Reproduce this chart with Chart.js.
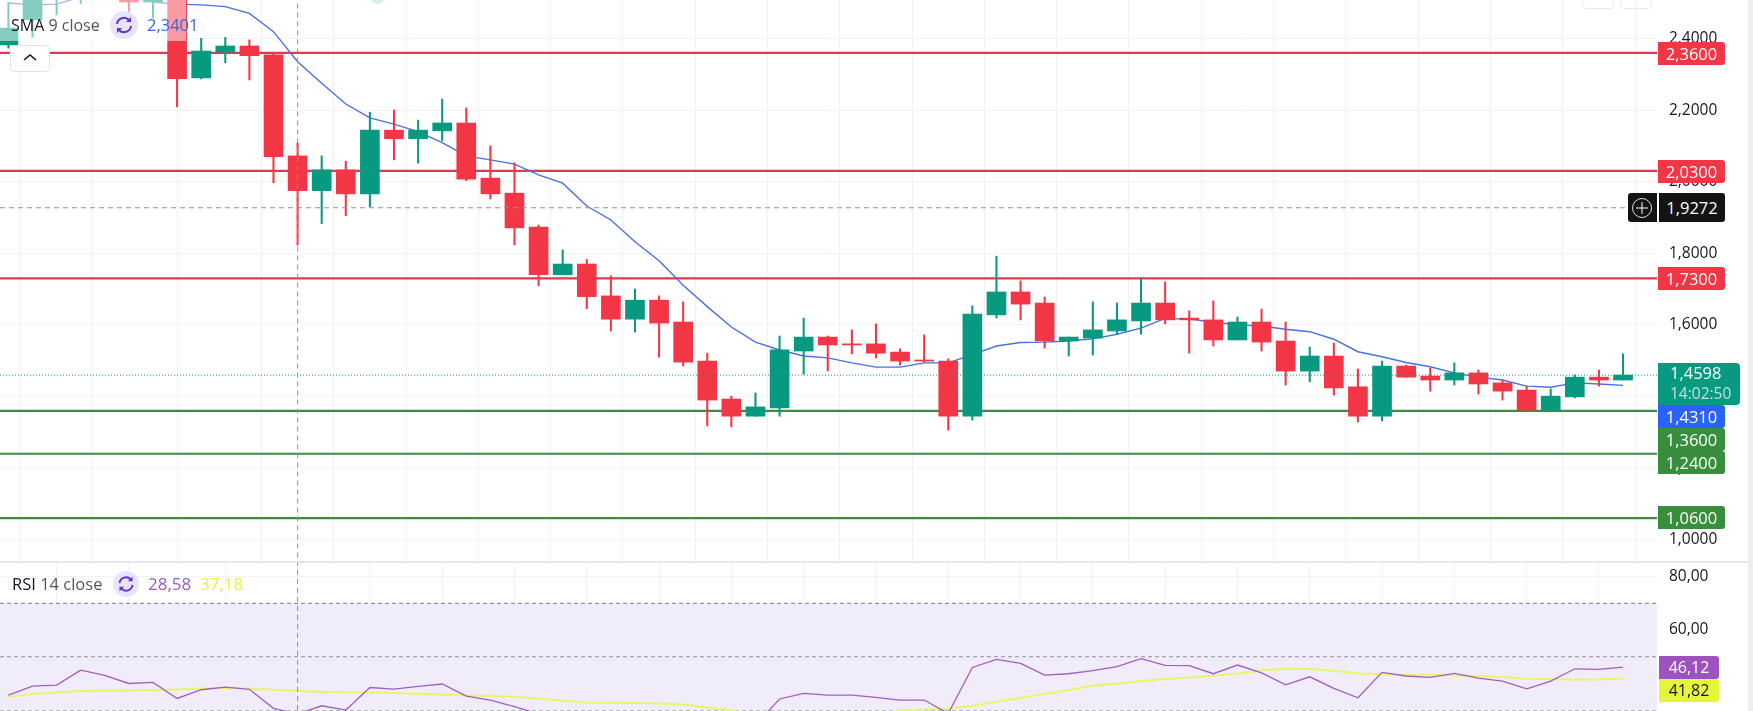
<!DOCTYPE html>
<html>
<head>
<meta charset="utf-8">
<title>Chart</title>
<script src="https://cdn.jsdelivr.net/npm/chart.js@4"></script>
<style>
  html, body { margin: 0; padding: 0; background: #fff; overflow: hidden; }
  body { width: 1753px; height: 711px; position: relative; font-family: "Open Sans", "Noto Sans", sans-serif; }
  canvas { position: absolute; left: 0; }
  #main { top: 0; }
  #rsi { top: 562px; }
  .abs { position: absolute; }
  .tag { position: absolute; left: 1658px; width: 67px; height: 23px; line-height: 23px; color: #fff; font-weight: 500;
         font-size: 16.5px; text-align: center; border-radius: 0 3px 3px 0; white-space: nowrap; }
  .legend { position: absolute; font-size: 16px; white-space: nowrap; line-height: 20px; }
  .legend b { font-weight: 400; color: #131722; }
  .legend i { font-style: normal; color: #555; }
</style>
</head>
<body>
<canvas id="main" width="1753" height="562"></canvas>
<canvas id="rsi" width="1753" height="149"></canvas>

<div class="abs" style="left:0;top:561px;width:1748px;height:2px;background:#e4e6ec"></div>
<div class="abs" style="left:1748px;top:0;width:5px;height:711px;background:#eeeeee"></div>
<div class="abs" style="left:0;top:0;width:186px;height:41px;background:rgba(255,255,255,.5)"></div>
<div class="abs" style="left:1582px;top:-8px;width:30px;height:15px;border:1px solid #e8e9ee;border-radius:4px"></div>
<div class="abs" style="left:1620px;top:-8px;width:30px;height:15px;border:1px solid #e8e9ee;border-radius:4px"></div>
<div class="abs" style="left:371px;top:-8px;width:13px;height:12px;border-radius:50%;background:#d5efe8"></div>

<!-- legends -->
<div class="legend" style="left:11px;top:15px"><b>SMA</b> <i>9 close</i></div>
<svg class="abs" style="left:110px;top:11px" width="28" height="28" viewBox="0 0 28 28">
  <circle cx="14" cy="14" r="14" fill="#e9e3fb"/>
  <path d="M7 13a7 7 0 0 1 12-4M21 15a7 7 0 0 1-12 4" fill="none" stroke="#5b34d8" stroke-width="2"/>
  <path d="M21 6v5h-5zM7 22v-5h5z" fill="#5b34d8"/>
</svg>
<div class="legend" style="left:147px;top:15px;color:#3f62dd;font-size:16.5px">2,3401</div>
<div class="abs" style="left:10px;top:45px;width:38px;height:25px;border:1px solid #e0e3eb;border-radius:4px;background:#fff"></div>
<svg class="abs" style="left:22px;top:52px" width="16" height="10" viewBox="0 0 16 10">
  <path d="M2 8l6-5 6 5" fill="none" stroke="#131722" stroke-width="1.6"/>
</svg>

<div class="legend" style="left:12px;top:574px;font-size:16.5px"><b>RSI</b> <i>14 close</i></div>
<svg class="abs" style="left:113px;top:571px" width="26" height="26" viewBox="0 0 28 28">
  <circle cx="14" cy="14" r="14" fill="#e9e3fb"/>
  <path d="M7 13a7 7 0 0 1 12-4M21 15a7 7 0 0 1-12 4" fill="none" stroke="#5b34d8" stroke-width="2"/>
  <path d="M21 6v5h-5zM7 22v-5h5z" fill="#5b34d8"/>
</svg>
<div class="legend" style="left:148px;top:574px;font-size:17px;color:#9c59c0">28,58</div>
<div class="legend" style="left:200px;top:574px;font-size:17px;color:#e6f53a">37,18</div>

<!-- price tags -->
<div class="tag" style="top:42px;background:#f23645">2,3600</div>
<div class="tag" style="top:160px;background:#f23645">2,0300</div>
<div class="tag" style="top:267px;background:#f23645">1,7300</div>
<div class="abs" style="left:1628px;top:193px;width:29px;height:29px;background:#131313;border-radius:3px 0 0 3px"></div>
<svg class="abs" style="left:1631px;top:197px" width="22" height="22" viewBox="0 0 22 22">
  <circle cx="11" cy="11" r="9.5" fill="none" stroke="#ddd" stroke-width="1"/>
  <path d="M11 5v12M5 11h12" stroke="#fff" stroke-width="1"/>
</svg>
<div class="tag" style="top:193px;height:29px;line-height:29px;background:#131313;margin-left:1px;width:66px">1,9272</div>
<div class="tag" style="top:363px;width:70px;height:42px;background:#089981;border-radius:0 4px 4px 0;line-height:20px;padding:0 0 0 12px;text-align:left">1,4598<br><span style="color:#bfe3db;font-size:15.5px">14:02:50</span></div>
<div class="tag" style="top:405px;background:#2962ff">1,4310</div>
<div class="tag" style="top:428px;background:#388e3c">1,3600</div>
<div class="tag" style="top:451px;background:#388e3c">1,2400</div>
<div class="tag" style="top:506px;background:#388e3c">1,0600</div>
<div class="tag" style="top:656px;width:60px;left:1659px;background:#9c52bf;font-size:16px">46,12</div>
<div class="tag" style="top:679px;width:60px;left:1659px;background:#e6f53a;color:#131722;font-size:16px">41,82</div>

<script>
var opens = [2.382,2.452,2.52,2.53,2.56,2.54,2.502,2.55,2.290,2.362,
  2.379,2.354,2.072,1.975,2.033,1.966,2.144,2.120,2.142,2.164,
  2.010,1.968,1.873,1.740,1.770,1.681,1.616,1.669,1.608,1.499,
  1.393,1.345,1.368,1.527,1.566,1.547,1.547,1.524,1.502,1.499,
  1.345,1.628,1.692,1.661,1.555,1.563,1.583,1.611,1.661,1.619,
  1.614,1.558,1.608,1.555,1.471,1.513,1.427,1.345,1.485,1.457,
  1.446,1.466,1.438,1.418,1.362,1.399,1.454,1.446];
var closes = [2.429,2.56,2.56,2.55,2.53,2.502,2.54,2.288,2.365,2.379,
  2.352,2.070,1.975,2.033,1.966,2.144,2.120,2.144,2.164,2.007,
  1.966,1.871,1.740,1.770,1.679,1.616,1.669,1.605,1.496,1.390,
  1.345,1.371,1.530,1.566,1.544,1.544,1.521,1.499,1.499,1.345,
  1.630,1.692,1.658,1.555,1.566,1.586,1.614,1.661,1.614,1.614,
  1.558,1.608,1.552,1.471,1.513,1.424,1.345,1.485,1.454,1.446,
  1.466,1.435,1.415,1.362,1.401,1.454,1.446,1.4598];
var highs = [2.50,2.60,2.60,2.58,2.60,2.58,2.58,2.60,2.4005,2.403,
  2.396,2.359,2.108,2.072,2.057,2.194,2.200,2.172,2.231,2.206,
  2.100,2.053,1.879,1.809,1.783,1.737,1.700,1.681,1.664,1.521,
  1.401,1.410,1.569,1.619,1.569,1.586,1.603,1.533,1.572,1.505,
  1.653,1.792,1.723,1.678,1.566,1.664,1.661,1.731,1.720,1.639,
  1.667,1.622,1.644,1.608,1.538,1.549,1.477,1.499,1.488,1.480,
  1.494,1.474,1.446,1.429,1.421,1.460,1.474,1.519];
var lows = [2.373,2.404,2.466,2.498,2.52,2.460,2.457,2.209,2.287,2.332,
  2.284,1.997,1.823,1.883,1.905,1.930,2.061,2.052,2.114,2.003,
  1.952,1.823,1.709,1.740,1.645,1.583,1.580,1.510,1.485,1.318,
  1.315,1.345,1.345,1.462,1.471,1.519,1.508,1.488,1.496,1.306,
  1.334,1.619,1.614,1.535,1.513,1.516,1.574,1.574,1.603,1.521,
  1.541,1.558,1.527,1.432,1.441,1.404,1.329,1.332,1.454,1.415,
  1.432,1.407,1.390,1.359,1.362,1.396,1.429,1.446];
var smaVals = [2.499,2.494,2.496,2.516,2.524,2.524,2.502,2.496,2.494,2.489,
  2.470,2.419,2.335,2.275,2.217,2.178,2.161,2.140,2.109,2.072,
  2.061,2.049,2.019,1.996,1.932,1.893,1.832,1.779,1.711,1.651,
  1.594,1.552,1.530,1.513,1.508,1.494,1.482,1.482,1.494,1.494,
  1.517,1.541,1.551,1.552,1.555,1.561,1.574,1.591,1.618,1.616,
  1.608,1.600,1.597,1.588,1.581,1.560,1.525,1.511,1.495,1.483,
  1.466,1.454,1.446,1.429,1.426,1.438,1.435,1.431];
var rsiVals = [35.65,39.0,39.4,45.0,43.0,40.0,40.4,34.4,37.65,38.65,
  37.8,30.7,28.58,31.65,30.05,38.5,37.9,38.9,39.8,35.3,
  33.8,31.3,28.6,29.4,26.3,25,27,24,22,19,
  18,24.5,34.2,36.3,35.65,35.65,34.8,33.8,33.8,28.8,
  46.0,49.0,47.5,43.1,43.65,44.8,46.3,49.3,46.8,46.65,
  43.65,46.9,44.0,39.5,42.5,38.15,34.65,44.15,42.8,42.25,
  43.8,42.0,40.9,38.0,40.9,45.5,45.25,46.12];
var rsiMaVals = [35.03,36.03,36.65,37.15,37.28,37.4,37.53,37.78,38.15,38.28,
  38.15,37.65,37.18,36.9,36.65,36.65,36.4,36.15,35.9,35.53,
  35.28,35.03,34.28,33.66,32.8,32.8,32.66,32.53,32.16,31.03,
  29.91,28.16,26.3,25.7,26.0,26.9,28.2,29.8,30.3,30.5,
  31.66,33.16,34.66,36.03,37.53,39.15,40.0,40.9,41.65,42.27,
  42.9,43.77,44.9,45.5,45.4,44.77,43.77,43.5,43.27,43.27,
  43.0,42.77,42.4,41.77,41.65,41.4,41.5,41.82];

var redLevels = [2.36, 2.03, 1.73];
var greenLevels = [1.36, 1.24, 1.06];
var crosshairPrice = 1.9272;
var crosshairBar = 12;
var lastPrice = 1.4598;
var priceTicks = [1.0, 1.2, 1.4, 1.6, 1.8, 2.0, 2.2, 2.4];
var rsiTicks = [40, 60, 80];
var gridBars = [2, 5, 9, 12, 15, 18, 21, 24, 27, 30, 33, 36, 39, 42, 45, 48, 51, 54, 57, 60, 63, 66];

var RED = "#f23645", GREEN = "#089981", GRID = "#f0f2f7";
var xMin = -0.349, xMax = 68.41;
var ticksFont = { family: "'Open Sans', 'Noto Sans', sans-serif", size: 15.5 };

function hline(v, color, width, dash, order) {
  return { type: "line", data: [{ x: xMin, y: v }, { x: xMax, y: v }], borderColor: color,
    borderWidth: width, borderDash: dash || [], pointRadius: 0, order: order };
}

function xAxis() {
  return {
    type: "linear", min: xMin, max: xMax, offset: false,
    afterBuildTicks: function (s) { s.ticks = gridBars.map(function (v) { return { value: v }; }); },
    ticks: { display: false, maxTicksLimit: 100 },
    border: { display: false },
    grid: { color: GRID, drawTicks: false }
  };
}

function yAxis(min, max, tickVals, digits) {
  return {
    type: "linear", position: "right", min: min, max: max,
    afterBuildTicks: function (s) { s.ticks = tickVals.map(function (v) { return { value: v }; }); },
    afterFit: function (s) { s.width = 96; s.paddingTop = 0; s.paddingBottom = 0; },
    ticks: {
      color: "#131722", padding: 12, font: ticksFont, autoSkip: false,
      callback: function (v) { return v.toFixed(digits).replace(".", ","); }
    },
    border: { display: false },
    grid: { color: GRID, drawTicks: false }
  };
}

function pts(arr) { return arr.map(function (v, i) { return { x: i, y: v }; }); }

var candleColors = opens.map(function (o, i) { return closes[i] >= o ? GREEN : RED; });

var mainSets = [
  { type: "bar", data: lows.map(function (l, i) { return { x: i, y: [l, highs[i]] }; }),
    backgroundColor: candleColors, barThickness: 1.4, grouped: false, order: 2 },
  { type: "bar", data: opens.map(function (o, i) { return { x: i, y: [o, closes[i]] }; }),
    backgroundColor: candleColors, barThickness: 19, grouped: false, order: 1 },
  { type: "line", data: pts(smaVals), borderColor: "#4a6fe3", borderWidth: 1.4, pointRadius: 0, tension: 0, order: 3 },
  hline(crosshairPrice, "#8f929b", 1, [5, 4], 0),
  { type: "line", data: [{ x: crosshairBar, y: 0.9 }, { x: crosshairBar, y: 2.6 }], borderColor: "#8f929b",
    borderWidth: 1, borderDash: [5, 4], pointRadius: 0, order: 0 },
  hline(lastPrice, "#089981", 1, [1, 2], 0)
];
redLevels.forEach(function (v) { mainSets.push(hline(v, "#dc3b4e", 2.2, null, 4)); });
greenLevels.forEach(function (v) { mainSets.push(hline(v, "#3f8a46", 2.2, null, 4)); });

new Chart("main", {
  data: { datasets: mainSets },
  options: {
    responsive: false, animation: false,
    layout: { padding: 0 },
    plugins: { legend: { display: false }, tooltip: { enabled: false } },
    scales: { x: xAxis(), y: yAxis(0.9377, 2.5075, priceTicks, 4) }
  }
});

var rsiSets = [
  { type: "line", data: pts(rsiMaVals), borderColor: "#e8f56a", borderWidth: 2, pointRadius: 0, order: 2 },
  { type: "line", data: pts(rsiVals), borderColor: "#a05fc4", borderWidth: 1.3, pointRadius: 0, order: 1 },
  { type: "line", data: [{ x: crosshairBar, y: 20 }, { x: crosshairBar, y: 90 }], borderColor: "#8f929b",
    borderWidth: 1, borderDash: [5, 4], pointRadius: 0, order: 0 },
  Object.assign(hline(70, "#787b86", 1, [4, 3], 5), { fill: "+1", backgroundColor: "#f0ecf9" }),
  hline(30, "#787b86", 1, [4, 3], 5),
  hline(50, "#8f929b", 1, [4, 3], 4)
];

new Chart("rsi", {
  data: { datasets: rsiSets },
  options: {
    responsive: false, animation: false,
    layout: { padding: 0 },
    plugins: { legend: { display: false }, tooltip: { enabled: false } },
    scales: { x: xAxis(), y: yAxis(29.7, 85.47, rsiTicks, 2) }
  }
});
</script>
</body>
</html>
